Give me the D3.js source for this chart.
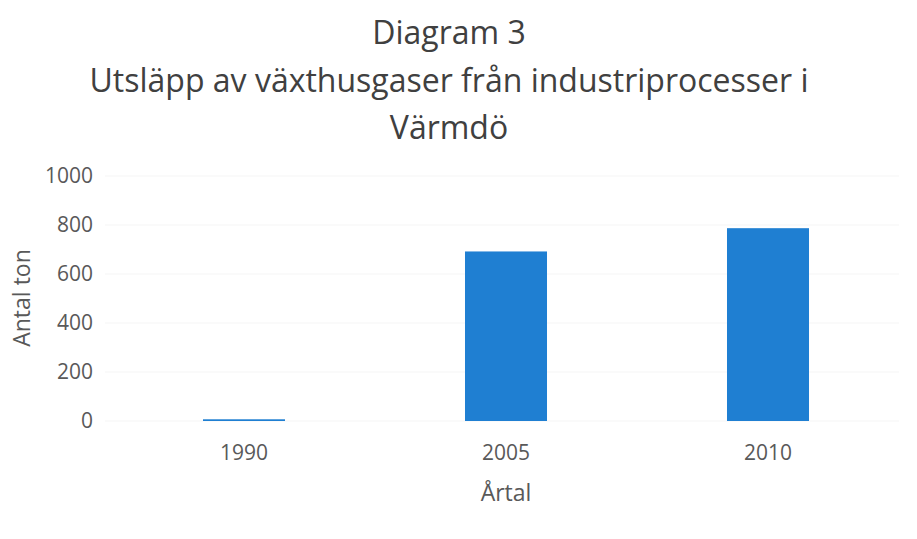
<!DOCTYPE html>
<html>
<head>
<meta charset="utf-8">
<script src="https://cdn.jsdelivr.net/npm/d3@7"></script>
<style>
  body { margin: 0; background: #fff; }
  text { font-family: "Open Sans", "Noto Sans", sans-serif; }
</style>
</head>
<body>
<svg width="917" height="539"></svg>
<script>
const years = ['1990', '2005', '2010'];
const values = [7, 692, 787];
const yTicks = [0, 200, 400, 600, 800, 1000];
const titleLines = ['Diagram 3', 'Utsläpp av växthusgaser från industriprocesser i', 'Värmdö'];

const svg = d3.select('svg');
const width = +svg.attr('width');

const margin = { left: 113, right: 18, top: 176, bottom: 118 };
const plotBottom = 421;

const x = d3.scaleBand()
    .domain(years)
    .range([margin.left, width - margin.right])
    .paddingInner(0.687)
    .paddingOuter(0.3435);

const y = d3.scaleLinear()
    .domain([0, 1000])
    .range([plotBottom, margin.top]);

// gridlines (very faint in the original)
svg.append('g')
    .selectAll('line')
    .data(yTicks)
    .enter().append('line')
    .attr('x1', 105)
    .attr('x2', width - margin.right)
    .attr('y1', d => y(d))
    .attr('y2', d => y(d))
    .attr('stroke', '#f5f5f5')
    .attr('stroke-width', 1);

// y tick labels
svg.append('g')
    .selectAll('text')
    .data(yTicks)
    .enter().append('text')
    .attr('x', 93)
    .attr('y', d => y(d))
    .attr('dy', '0.35em')
    .attr('text-anchor', 'end')
    .attr('font-size', 21)
    .attr('fill', '#595959')
    .text(d => d);

// bars
const data = years.map((yr, i) => ({ year: yr, value: values[i] }));
svg.append('g')
    .selectAll('rect')
    .data(data)
    .enter().append('rect')
    .attr('x', d => x(d.year))
    .attr('width', x.bandwidth())
    .attr('y', d => y(d.value))
    .attr('height', d => y(0) - y(d.value))
    .attr('fill', '#1f7fd2');

// x tick labels
svg.append('g')
    .selectAll('text')
    .data(years)
    .enter().append('text')
    .attr('x', d => x(d) + x.bandwidth() / 2)
    .attr('y', 453)
    .attr('dy', '0.35em')
    .attr('text-anchor', 'middle')
    .attr('font-size', 21)
    .attr('fill', '#595959')
    .text(d => d);

// axis titles
svg.append('text')
    .attr('x', 506)
    .attr('y', 493)
    .attr('dy', '0.35em')
    .attr('text-anchor', 'middle')
    .attr('font-size', 23)
    .attr('fill', '#595959')
    .text('Årtal');

svg.append('text')
    .attr('transform', 'translate(22,298) rotate(-90)')
    .attr('dy', '0.35em')
    .attr('text-anchor', 'middle')
    .attr('font-size', 23)
    .attr('fill', '#595959')
    .text('Antal ton');

// title
svg.append('g')
    .selectAll('text')
    .data(titleLines)
    .enter().append('text')
    .attr('x', 449)
    .attr('y', (d, i) => 33 + i * 47.5)
    .attr('dy', '0.35em')
    .attr('text-anchor', 'middle')
    .attr('font-size', 32)
    .attr('fill', '#404040')
    .text(d => d);
</script>
</body>
</html>
